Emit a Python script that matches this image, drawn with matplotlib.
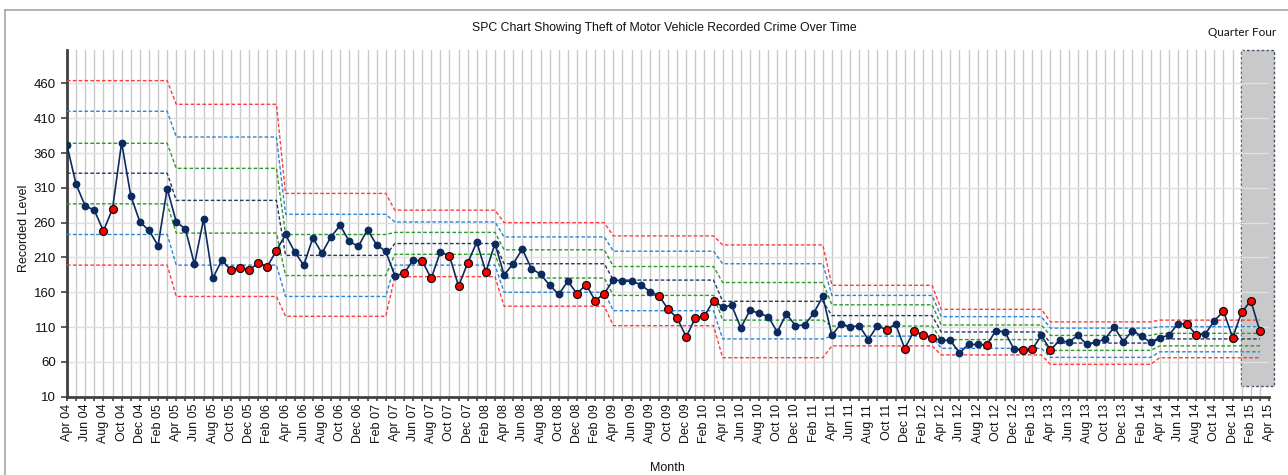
import matplotlib
matplotlib.use("Agg")
import matplotlib.pyplot as plt
from matplotlib.patches import Rectangle
from matplotlib.lines import Line2D
import numpy as np

plt.rcParams['font.family'] = ['Liberation Sans', 'DejaVu Sans']

# ---- data ----
months = ["Apr", "May", "Jun", "Jul", "Aug", "Sep", "Oct", "Nov", "Dec", "Jan", "Feb", "Mar"]
start_year = 4
n_points = 132

values = [371, 315, 284, 278, 248, 280, 375, 299, 261, 249, 227, 309,
          261, 251, 200, 265, 180, 206, 192, 195, 192, 202, 197, 220,
          243, 218, 199, 238, 216, 240, 256, 233, 226, 250, 228, 219,
          184, 187, 206, 205, 180, 218, 212, 169, 202, 232, 189, 230,
          185, 201, 222, 194, 186, 170, 157, 176, 158, 171, 148, 158,
          178, 176, 176, 171, 161, 155, 136, 123, 96, 123, 126, 148,
          139, 141, 109, 134, 130, 125, 103, 129, 112, 113, 130, 154,
          98, 115, 110, 112, 92, 112, 106, 114, 79, 104, 99, 94,
          91, 91, 73, 85, 85, 84, 105, 103, 78, 77, 78, 98,
          77, 91, 88, 98, 85, 88, 93, 110, 89, 105, 97, 88,
          95, 98, 115, 114, 99, 100, 119, 133, 95, 131, 148, 104]

flagged = [4, 5, 18, 19, 20, 21, 22, 23, 37, 39, 40, 42, 43, 44, 46,
           56, 57, 58, 59, 65, 66, 67, 68, 69, 70, 71, 90, 92, 93, 94, 95,
           101, 105, 106, 108, 123, 124, 127, 128, 129, 130, 131]

# control limits per 12-month segment
seg_mean = [331, 292, 213, 230, 201, 177.5, 147, 126.5, 103, 87, 93]
seg_ucl = [464, 430, 302, 278, 260, 241, 228, 170, 135.5, 117.5, 120]
seg_u2 = [420, 383, 272, 261, 239.5, 219, 201, 155.5, 125, 108.5, 110.5]
seg_u1 = [374, 338, 243, 246, 221, 197, 174, 142, 113, 98, 101]
seg_l1 = [287, 245, 184, 214.5, 180.5, 155.5, 120, 111.5, 92, 76.5, 83]
seg_l2 = [243, 199, 154, 199, 160, 133.5, 93, 97, 79.5, 66.5, 74.5]
seg_lcl = [199, 154, 125.5, 182.5, 140, 112, 66, 83, 70, 56.5, 66]

quarter_start = 128.9
quarter_end = 132.5

# ---- figure ----
W, H = 1288, 475
fig = plt.figure(figsize=(W / 100, H / 100), dpi=100)
ax_l, ax_r, ax_t, ax_b = 67, 1269, 50, 396.7
ax = fig.add_axes([ax_l / W, 1 - ax_b / H, (ax_r - ax_l) / W, (ax_b - ax_t) / H])

x = np.arange(n_points)
seg_len = 12

def expand(seg):
    return np.repeat(seg, seg_len)[:n_points]

dash = (0, (2.6, 1.6))
ax.plot(x, expand(seg_ucl), color="#FF3B3B", lw=1.0, ls=dash, zorder=3)
ax.plot(x, expand(seg_lcl), color="#FF3B3B", lw=1.0, ls=dash, zorder=3)
ax.plot(x, expand(seg_u2), color="#2B85D6", lw=1.0, ls=dash, zorder=3)
ax.plot(x, expand(seg_l2), color="#2B85D6", lw=1.0, ls=dash, zorder=3)
ax.plot(x, expand(seg_u1), color="#2A9A2A", lw=1.0, ls=dash, zorder=3)
ax.plot(x, expand(seg_l1), color="#2A9A2A", lw=1.0, ls=dash, zorder=3)
ax.plot(x, expand(seg_mean), color="#1F3864", lw=1.0, ls=dash, zorder=3)

vals = np.array(values, dtype=float)
ax.plot(x, vals, color="#0B2A5E", lw=1.2, marker="o", ms=4.6,
        mfc="#0B2A5E", mec="#0B2A5E", zorder=5)
ax.plot(x[flagged], vals[flagged], ls="none", marker="o", ms=5.7,
        mfc="#FF0000", mec="#111111", mew=0.9, zorder=6)

# quarter four box
ax.add_patch(Rectangle((quarter_start, 25), quarter_end - quarter_start, 508 - 25,
                       facecolor="#C9C9C9", edgecolor="#44546A", lw=1.0,
                       ls=(0, (2, 1.5)), zorder=0.3, clip_on=False))

ax.set_xlim(0, 132)
ax.set_ylim(10, 508)
ax.set_yticks(np.arange(10, 461, 50))

ticks = np.arange(0, 133)
labels = []
for i in ticks:
    if i % 2 == 0:
        m = months[i % 12]
        yr = start_year + (i + 3) // 12
        labels.append(f"{m} {yr:02d}")
    else:
        labels.append("")
ax.set_xticks(ticks)
ax.set_xticklabels(labels, rotation=90, fontsize=9, color="#111111")
ax.tick_params(axis="x", length=3, width=1.2, color="#404040", pad=2)
ax.tick_params(axis="y", length=4, width=1.2, color="#404040", labelsize=9.5,
               labelcolor="#111111", pad=4)

ax.grid(axis="x", color="#C8C8C8", lw=1.0, zorder=0.5)
ax.grid(axis="y", color="#E0E0E0", lw=1.0, zorder=0.5)
ax.set_axisbelow(True)

for s in ["top", "right"]:
    ax.spines[s].set_visible(False)
for s in ["left", "bottom"]:
    ax.spines[s].set_color("#404040")
    ax.spines[s].set_linewidth(2.0)

# texts
fig.text(664 / W, 1 - 28 / H, "SPC Chart Showing Theft of Motor Vehicle Recorded Crime Over Time",
         ha="center", va="center", fontsize=8.8, color="#111111")
fig.text(24 / W, 1 - 228 / H, "Recorded Level", ha="center", va="center",
         rotation=90, fontsize=9, color="#111111")
fig.text(667 / W, 1 - 468 / H, "Month", ha="center", va="center",
         fontsize=9, color="#111111")
fig.text(1242 / W, 1 - 33 / H, "Quarter Four", ha="center", va="center",
         fontsize=8.5, color="#111111", family=["Lato", "DejaVu Sans"])

# outer frame
fig.add_artist(Line2D([5 / W, 5 / W], [0, 1 - 10 / H], transform=fig.transFigure,
                      color="#A6A6A6", lw=1.2))
fig.add_artist(Line2D([5 / W, 1], [1 - 10 / H, 1 - 10 / H], transform=fig.transFigure,
                      color="#A6A6A6", lw=1.2))

fig.savefig("out.png", dpi=100)
